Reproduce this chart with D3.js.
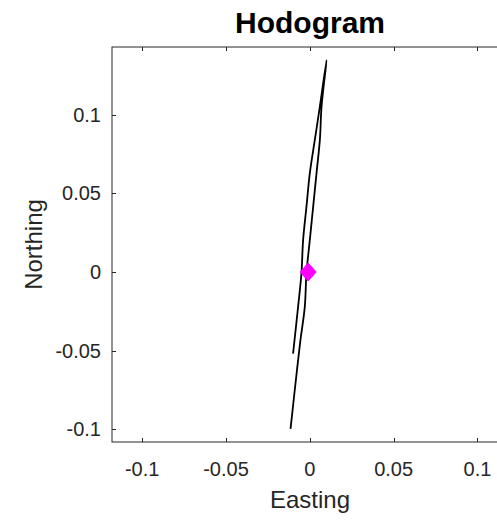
<!DOCTYPE html>
<html>
<head>
<meta charset="utf-8">
<script src="https://cdn.jsdelivr.net/npm/d3@7"></script>
<style>
  html, body { margin: 0; padding: 0; background: #fff; overflow: hidden; }
  svg { display: block; font-family: "Liberation Sans", Arial, sans-serif; }
</style>
</head>
<body>
<svg id="chart" width="497" height="521"></svg>
<script>
// hodogram trace, easting / northing
const easting  = [-0.0100, -0.0070, -0.0050, -0.0040, -0.0020, 0.0000, 0.0030, 0.0060, 0.0100,
                   0.0070,  0.0060,  0.0040,  0.0020,  0.0000, -0.0020, -0.0030, -0.0056, -0.0079, -0.0115];
const northing = [-0.0518, -0.0221, -0.0008, 0.0204, 0.0416, 0.0629, 0.0841, 0.1053, 0.1346,
                   0.1053,  0.0841,  0.0629, 0.0416, 0.0204, -0.0008, -0.0221, -0.0433, -0.0645, -0.0996];
const startPoint = [-0.001, 0.0];
const xTicks = [-0.1, -0.05, 0, 0.05, 0.1];
const yTicks = [-0.1, -0.05, 0, 0.05, 0.1];

const svg = d3.select('#chart');
const pLeft = 112, pTop = 47, pBottom = 442, pRight = 511;
const axisColor = '#262626';
const tickFs = 20, labelFs = 24, titleFs = 30;

const x = d3.scaleLinear().domain([-0.118, 0.12]).range([pLeft, pRight]);
const y = d3.scaleLinear().domain([-0.108, 0.143]).range([pBottom, pTop]);

const fmt = d => d === 0 ? '0' : String(d);

// frame
svg.append('rect')
  .attr('x', pLeft).attr('y', pTop)
  .attr('width', pRight - pLeft).attr('height', pBottom - pTop)
  .attr('fill', '#fff').attr('stroke', axisColor).attr('stroke-width', 1);

// ticks (inside, on all sides)
const tk = 4;
const g = svg.append('g').attr('stroke', axisColor).attr('stroke-width', 1);
xTicks.forEach(t => {
  const px = Math.round(x(t)) + 0.5;
  g.append('line').attr('x1', px).attr('x2', px).attr('y1', pBottom).attr('y2', pBottom - tk);
  g.append('line').attr('x1', px).attr('x2', px).attr('y1', pTop).attr('y2', pTop + tk);
});
yTicks.forEach(t => {
  const py = Math.round(y(t)) + 0.5;
  g.append('line').attr('x1', pLeft).attr('x2', pLeft + tk).attr('y1', py).attr('y2', py);
  g.append('line').attr('x1', pRight).attr('x2', pRight - tk).attr('y1', py).attr('y2', py);
});

// tick labels
svg.append('g').selectAll('text').data(xTicks).join('text')
  .attr('x', d => x(d)).attr('y', 476)
  .attr('text-anchor', 'middle')
  .attr('font-size', tickFs).attr('fill', axisColor)
  .text(fmt);

svg.append('g').selectAll('text').data(yTicks).join('text')
  .attr('x', 101).attr('y', d => y(d) + 7)
  .attr('text-anchor', 'end')
  .attr('font-size', tickFs).attr('fill', axisColor)
  .text(fmt);

// axis titles
svg.append('text')
  .attr('x', 310).attr('y', 508)
  .attr('text-anchor', 'middle')
  .attr('font-size', labelFs).attr('fill', axisColor)
  .text('Easting');

svg.append('text')
  .attr('transform', `translate(42,${(pTop + pBottom) / 2}) rotate(-90)`)
  .attr('text-anchor', 'middle')
  .attr('font-size', labelFs).attr('fill', axisColor)
  .text('Northing');

svg.append('text')
  .attr('x', 310).attr('y', 33)
  .attr('text-anchor', 'middle')
  .attr('font-size', titleFs).attr('font-weight', 'bold').attr('fill', '#000')
  .text('Hodogram');

// trace
const pts = easting.map((e, i) => [e, northing[i]]);
const line = d3.line().x(d => x(d[0])).y(d => y(d[1])).curve(d3.curveCatmullRom);
svg.append('path')
  .attr('d', line(pts))
  .attr('fill', 'none').attr('stroke', '#000').attr('stroke-width', 1.8);

// start marker
const mx = x(startPoint[0]), my = y(startPoint[1]);
svg.append('path')
  .attr('d', `M${mx},${my - 9} L${mx + 8},${my} L${mx},${my + 9} L${mx - 8},${my} Z`)
  .attr('fill', '#ff00ff').attr('stroke', '#ff00ff').attr('stroke-width', 1);
</script>
</body>
</html>
